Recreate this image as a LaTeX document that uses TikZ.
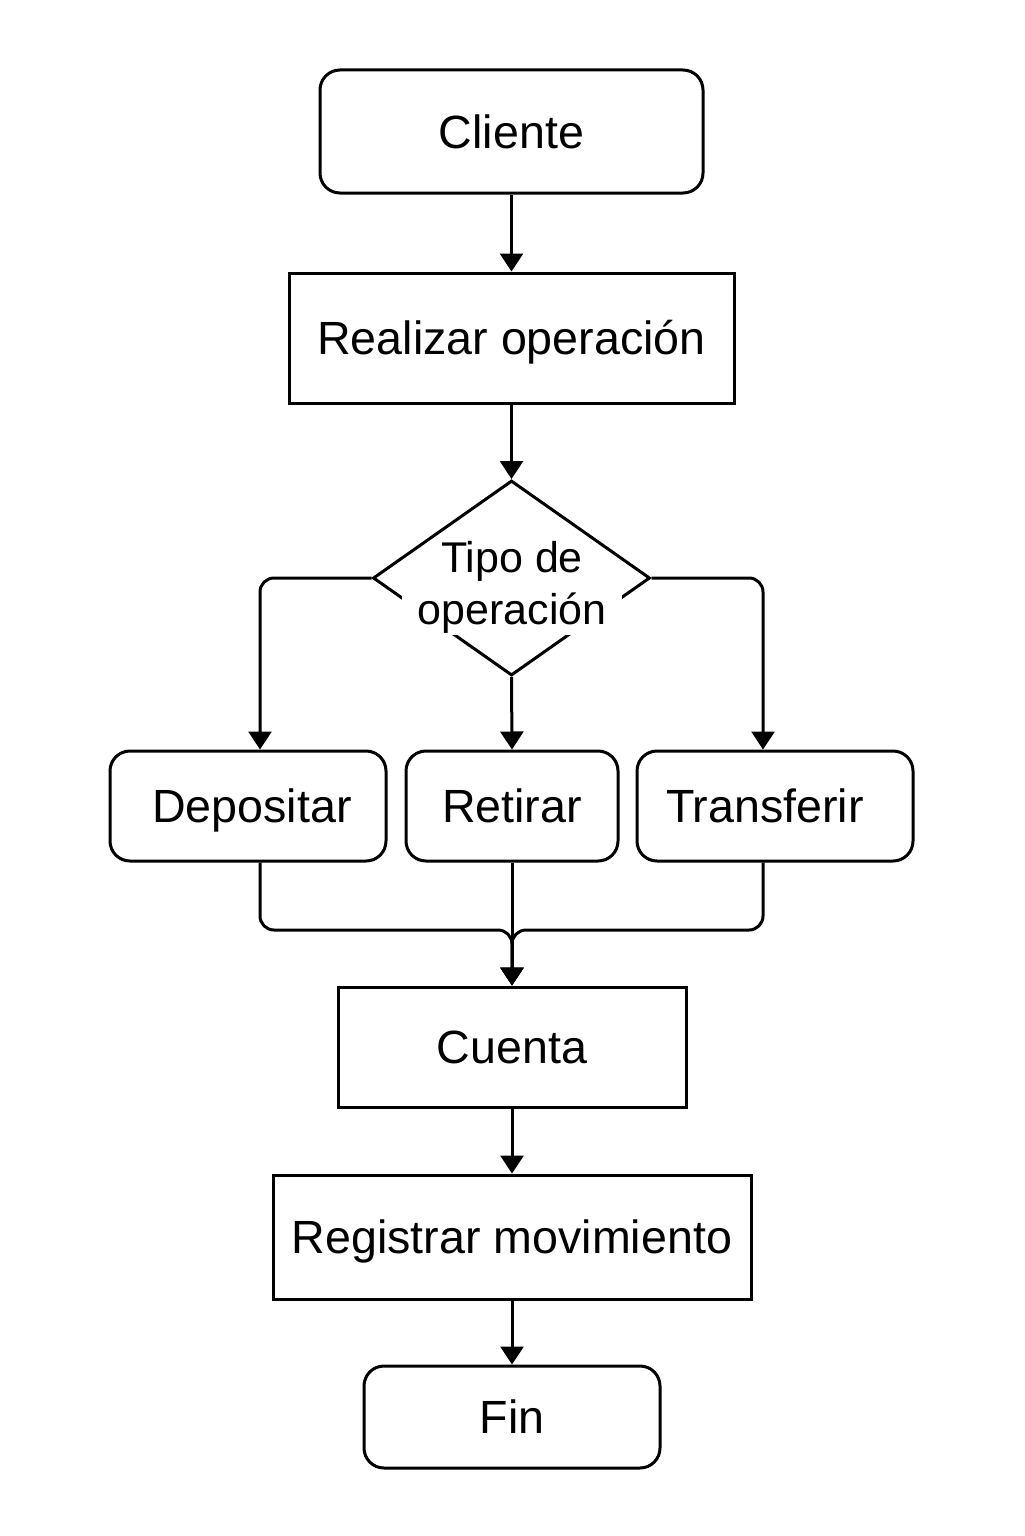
\documentclass[tikz,border=0pt]{standalone}
\usepackage{fontspec}
\setmainfont{Liberation Sans}
\usetikzlibrary{shapes.geometric,arrows.meta}
\tikzset{
  box/.style={draw=black, line width=1.5pt, rectangle, inner sep=0pt, text height=16.7pt, text depth=0pt, font=\fontsize{23.3}{28}\selectfont},
  rbox/.style={box, rounded corners=10pt},
  dia/.style={draw=black, line width=1.5pt, diamond, inner sep=0pt},
  dtext/.style={inner sep=0pt, font=\fontsize{21.5}{27.5}\selectfont},
  arr/.style={line width=1.5pt, -{Triangle[length=9pt,width=11.5pt]}},
  merge/.style={arr, rounded corners=7pt}
}
\begin{document}
\begin{tikzpicture}[x=0.5pt,y=-0.5pt]
\useasboundingbox (0,0) rectangle (1024,1536);
\node[rbox, minimum width=191.5pt, minimum height=61.5pt] (cli) at (511.5,131.5) {Cliente};
\node[box, minimum width=222.5pt, minimum height=65pt] (real) at (511.5,338) {Realizar operación};
\node[dia, minimum width=138.5pt, minimum height=97.5pt] (d) at (511.5,578) {};
\node[dtext] (t1) at (512,561) {Tipo de};
\node[dtext, fill=white, minimum width=110pt, minimum height=22pt] (t2) at (512,613) {operación};
\node[rbox, minimum width=138pt, minimum height=55pt] (dep) at (248,806) {\kern4pt Depositar};
\node[rbox, minimum width=106pt, minimum height=55pt] (ret) at (512,806) {Retirar};
\node[rbox, minimum width=138pt, minimum height=55pt] (tra) at (775,806) {Transferir\kern10pt};
\node[box, minimum width=174pt, minimum height=60pt] (cue) at (512,1047) {Cuenta};
\node[box, minimum width=239pt, minimum height=62pt] (reg) at (512,1237) {Registrar movimiento};
\node[rbox, minimum width=148pt, minimum height=51pt] (fin) at (512,1417) {Fin};
\coordinate (m) at (512,930);
\draw[arr] (cli) -- (real);
\draw[arr] (real) -- (d.north);
\draw[arr, rounded corners=7pt] (d.west) -| ([xshift=6pt]dep.north);
\draw[arr, rounded corners=7pt] (d.east) -| ([xshift=-6pt]tra.north);
\draw[arr] (d.south) -- (ret.north);
\draw[merge] ([xshift=6pt]dep.south) |- (m) -- (cue.north);
\draw[merge] ([xshift=-6pt]tra.south) |- (m) -- (cue.north);
\draw[arr] (ret.south) -- (cue.north);
\draw[arr] (cue) -- (reg);
\draw[arr] (reg) -- (fin);
\end{tikzpicture}
\end{document}
